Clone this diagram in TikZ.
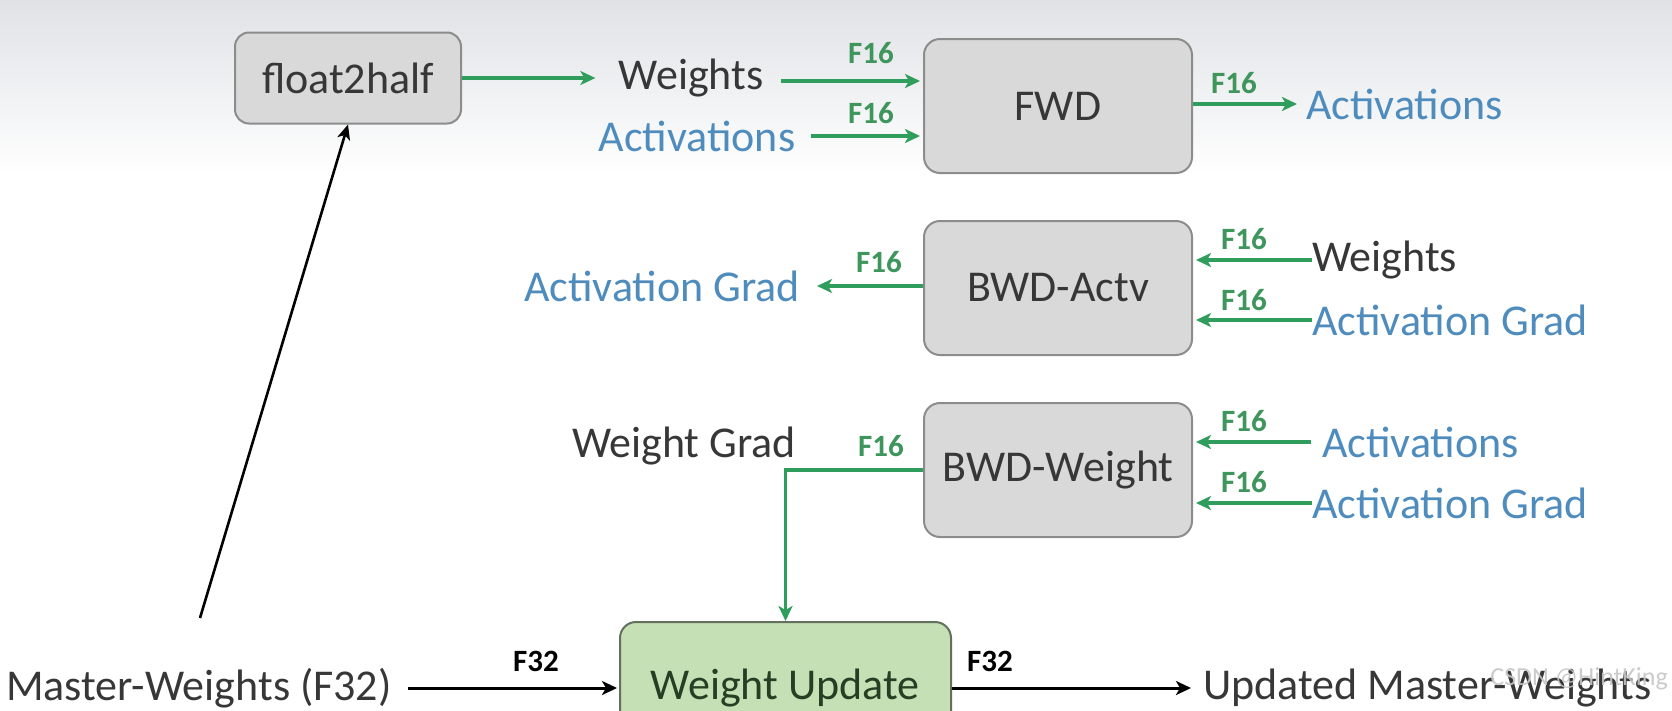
\documentclass[tikz,border=0pt]{standalone}
\usepackage{fontspec}
\setmainfont{Carlito}
\usetikzlibrary{arrows.meta,calc}
\definecolor{grn}{RGB}{47,158,92}
\definecolor{grntxt}{RGB}{62,150,92}
\definecolor{blu}{RGB}{79,140,190}
\definecolor{dark}{RGB}{55,55,55}
\definecolor{boxfill}{RGB}{217,217,217}
\definecolor{boxline}{RGB}{140,140,140}
\definecolor{wufill}{RGB}{197,224,180}
\definecolor{wuline}{RGB}{100,112,95}
\definecolor{wutxt}{RGB}{40,62,36}
\definecolor{bgtop}{RGB}{224,226,230}
\tikzset{
  x=1pt,y=-1pt,
  txt/.style={inner sep=0pt,font=\fontsize{44}{50}\selectfont},
  dtxt/.style={txt,text=dark},
  btxt/.style={txt,text=blu},
  procbox/.style={draw=boxline,line width=2pt,fill=boxfill,rounded corners=16pt,
     minimum width=268pt,minimum height=134pt,inner sep=0pt,
     font=\fontsize{44}{50}\selectfont,text=dark},
  flab/.style={inner sep=0pt,font=\fontsize{31}{34}\selectfont\bfseries,text=grntxt},
  klab/.style={inner sep=0pt,font=\fontsize{31}{34}\selectfont\bfseries,text=black},
  garrow/.style={draw=grn,line width=3.5pt,-{Stealth[length=15pt,width=14pt,inset=4pt]}},
  karrow/.style={draw=black,line width=3pt,-{Stealth[length=15pt,width=14pt,inset=4pt]}},
}
\begin{document}
\begin{tikzpicture}
\useasboundingbox (0,0) rectangle (1672,710);
\clip (0,0) rectangle (1672,710);
\fill[white] (0,0) rectangle (1672,710);
\shade[top color=bgtop,bottom color=white] (0,0) rectangle (1672,175);

% boxes
\node[procbox,minimum width=226pt,minimum height=91pt,rounded corners=14pt] (f2h) at (348,78) {float2half};
\node[procbox] (fwd) at (1058,106) {FWD};
\node[procbox] (bwda) at (1058,288) {BWD-Actv};
\node[procbox] (bwdw) at (1058,470) {BWD-Weight};
\node[draw=wuline,line width=2pt,fill=wufill,rounded corners=16pt,minimum width=331pt,
      minimum height=140pt,inner sep=0pt,anchor=north] (wu) at (785.5,621) {};
\node[txt,text=wutxt] (wut) at (785,688) {Weight Update};

% text nodes
\node[dtxt] (w1) at (691,78) {Weights};
\node[btxt] (a1) at (697,136) {Activations};
\node[btxt,anchor=west] (a2) at (1306,104) {Activations};
\node[btxt] (ag1) at (662,286) {Activation Grad};
\node[dtxt,anchor=west] (w2) at (1312,260) {Weights};
\node[btxt,anchor=west] (ag2) at (1312,320) {Activation Grad};
\node[btxt,anchor=west] (a3) at (1322,442) {Activations};
\node[btxt,anchor=west] (ag3) at (1312,503) {Activation Grad};
\node[dtxt] (wg) at (684,446) {Weight Grad};
\node[dtxt,anchor=west] (mw) at (6,688) {Master-Weights (F32)};
\node[dtxt,anchor=west] (umw) at (1203,688) {Updated Master-Weights};
\coordinate (mwtop) at (200,618);

% labels
\node[flab] (l1) at (871,53) {F16};
\node[flab] (l2) at (871,113) {F16};
\node[flab] (l3) at (1234,83) {F16};
\node[flab] (l4) at (879,262) {F16};
\node[flab] (l5) at (1244,239) {F16};
\node[flab] (l6) at (1244,300) {F16};
\node[flab] (l7) at (881,446) {F16};
\node[flab] (l8) at (1244,421) {F16};
\node[flab] (l9) at (1244,482) {F16};
\node[klab] (l10) at (536,661) {F32};
\node[klab] (l11) at (990,661) {F32};

% connectors
\draw[garrow,shorten >=23pt] (f2h.east) -- (f2h.east -| w1.west);
\draw[garrow,shorten <=17pt,shorten >=3pt] ([yshift=-3pt]w1.east) -- ([yshift=-3pt]w1.east -| fwd.west);
\draw[garrow,shorten <=16pt,shorten >=3pt] (a1.east) -- (a1.east -| fwd.west);
\draw[garrow,shorten >=9pt] (fwd.east |- a2.west) -- (a2.west);
\draw[garrow,shorten >=17pt] (bwda.west |- ag1.east) -- (ag1.east);
\draw[garrow,shorten >=3pt] (w2.west) -- (w2.west -| bwda.east);
\draw[garrow,shorten >=3pt] (ag2.west) -- (ag2.west -| bwda.east);
\draw[garrow,shorten <=11pt,shorten >=3pt] (a3.west) -- (a3.west -| bwdw.east);
\draw[garrow,shorten >=3pt] (ag3.west) -- (ag3.west -| bwdw.east);
\draw[garrow] (bwdw.west) -| (wu.north);
\draw[karrow,shorten <=16pt,shorten >=2pt] (mw.east) -- (mw.east -| wu.west);
\draw[karrow,shorten >=12pt] (wu.east |- umw.west) -- (umw.west);
\draw[draw=black,line width=2.6pt,-{Stealth[length=15pt,width=13pt,inset=4pt]}] (mwtop) -- (f2h.south);

% watermark
\node[inner sep=0pt,anchor=east,font=\fontsize{26}{30}\selectfont,text=gray!45,opacity=0.9] (wm) at (1668,679) {CSDN @HintKing};
\end{tikzpicture}
\end{document}
